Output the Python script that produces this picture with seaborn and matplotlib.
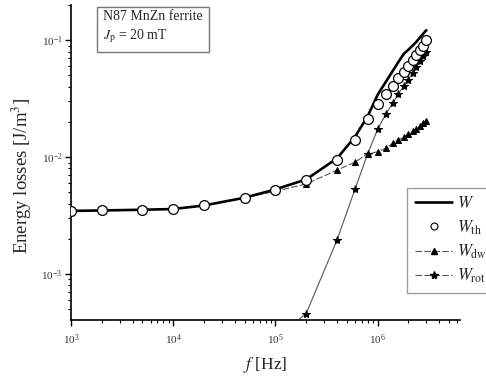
import numpy as np
import pandas as pd
import matplotlib
matplotlib.use("Agg")
import matplotlib.pyplot as plt
import seaborn as sns
from matplotlib.lines import Line2D

# ---- data ----
freq = [1e3, 2e3, 5e3, 1e4, 2e4, 5e4, 1e5, 2e5, 4e5, 6e5, 8e5,
        1.0e6, 1.2e6, 1.4e6, 1.6e6, 1.8e6, 2.0e6, 2.2e6, 2.4e6, 2.6e6, 2.8e6, 3.0e6]
W_total = [3.47e-3, 3.50e-3, 3.55e-3, 3.60e-3, 3.86e-3, 4.50e-3, 5.30e-3, 6.45e-3,
           9.75e-3, 1.49e-2, 2.24e-2, 3.41e-2, 4.39e-2, 5.43e-2, 6.53e-2, 7.62e-2,
           8.29e-2, 8.99e-2, 9.71e-2, 0.1055, 0.1138, 0.1217]
W_th = [3.47e-3, 3.50e-3, 3.55e-3, 3.60e-3, 3.86e-3, 4.50e-3, 5.20e-3, 6.35e-3,
        9.40e-3, 1.41e-2, 2.10e-2, 2.82e-2, 3.44e-2, 4.05e-2, 4.73e-2, 5.36e-2,
        6.02e-2, 6.75e-2, 7.45e-2, 8.22e-2, 8.93e-2, 0.100]
W_dw = [3.47e-3, 3.50e-3, 3.55e-3, 3.60e-3, 3.86e-3, 4.50e-3, 5.10e-3, 5.90e-3,
        7.74e-3, 9.06e-3, 1.07e-2, 1.11e-2, 1.19e-2, 1.31e-2, 1.40e-2, 1.48e-2,
        1.57e-2, 1.66e-2, 1.75e-2, 1.85e-2, 1.95e-2, 2.05e-2]
freq_rot = [1e5, 2e5, 4e5, 6e5, 8e5, 1.0e6, 1.2e6, 1.4e6, 1.6e6, 1.8e6, 2.0e6,
            2.2e6, 2.4e6, 2.6e6, 2.8e6, 3.0e6]
W_rot = [2.8e-4, 4.6e-4, 1.95e-3, 5.3e-3, 1.07e-2, 1.73e-2, 2.33e-2, 2.88e-2,
         3.50e-2, 4.05e-2, 4.61e-2, 5.26e-2, 5.91e-2, 6.62e-2, 7.30e-2, 8.00e-2]

labels = ["$W$", "$W_{\\rm th}$", "$W_{\\rm dw}$", "$W_{\\rm rot}$"]

sns.set_style("ticks")
plt.rcParams["font.family"] = ["Liberation Serif", "DejaVu Serif"]
plt.rcParams["mathtext.fontset"] = "stix"

fig = plt.figure(figsize=(4.86, 3.81), dpi=100)
ax = fig.add_axes([71/486, 1-320/381, (460-71)/486, (320-5)/381])

df = pd.DataFrame({"f": freq, "W": W_total, "Wth": W_th, "Wdw": W_dw})
dfr = pd.DataFrame({"f": freq_rot, "Wrot": W_rot})

sns.lineplot(data=dfr, x="f", y="Wrot", ax=ax, estimator=None, color="#555555",
             lw=0.8, marker="*", markersize=6, markerfacecolor="black",
             markeredgecolor="black", zorder=2)
sns.lineplot(data=df, x="f", y="Wdw", ax=ax, estimator=None, color="#555555",
             lw=0.8, marker="^", markersize=4.5, markerfacecolor="black",
             markeredgecolor="black", zorder=2)
ax.lines[-1].set_dashes((6, 2))
sns.lineplot(data=df, x="f", y="W", ax=ax, estimator=None, color="black",
             lw=1.9, zorder=3)
sns.scatterplot(data=df, x="f", y="Wth", ax=ax, s=50, marker="o",
                facecolor="white", edgecolor="black", linewidth=0.9, zorder=4)

ax.set_xscale("log")
ax.set_yscale("log")
ax.set_xlim(1e3, 6.4e6)
ax.set_ylim(4.05e-4, 0.2)

for s in ["top", "right"]:
    ax.spines[s].set_visible(False)
for s in ["left", "bottom"]:
    ax.spines[s].set_linewidth(1.2)
    ax.spines[s].set_color("black")

ax.tick_params(which="major", direction="out", length=4, width=1.0,
               labelsize=8, colors="black", labelcolor="#333333")
ax.tick_params(which="minor", direction="out", length=2.5, width=0.8, colors="black")
ax.tick_params(axis="y", pad=2)
ax.tick_params(axis="x", pad=5)

ax.set_xlabel("$f$ [Hz]", fontsize=12.5, labelpad=6)
ax.set_ylabel("Energy losses [J/m$^3$]", fontsize=13.5, labelpad=4)
ax.yaxis.set_label_coords(-0.095, 1-(176-5)/315)

ax.text((103-71)/389, 1-(10-5)/315,
        "N87 MnZn ferrite\n$J_{\\rm p}$ = 20 mT", transform=ax.transAxes,
        fontsize=10, va="top", ha="left", linespacing=1.4,
        bbox=dict(boxstyle="square,pad=0.45", fc="white", ec="#777777", lw=1.0))

handles = [
    Line2D([], [], color="black", lw=1.9),
    Line2D([], [], color="black", lw=0, marker="o", markersize=5,
           markerfacecolor="white", markeredgecolor="black", markeredgewidth=0.8),
    Line2D([], [], color="#555555", lw=0.8, dashes=(6, 2), marker="^",
           markersize=4.5, markerfacecolor="black", markeredgecolor="black"),
    Line2D([], [], color="#555555", lw=0.8, dashes=(6, 2), marker="*",
           markersize=6, markerfacecolor="black", markeredgecolor="black"),
]
leg = ax.legend(handles, labels, loc="upper left",
                bbox_to_anchor=(407/486, 1-188/381), bbox_transform=fig.transFigure,
                fontsize=12, frameon=True, fancybox=False, edgecolor="#888888",
                handlelength=2.2, handletextpad=0.3, labelspacing=0.35,
                borderpad=0.5, borderaxespad=0)
leg.get_frame().set_linewidth(1.0)

fig.savefig("out.png", dpi=100)
